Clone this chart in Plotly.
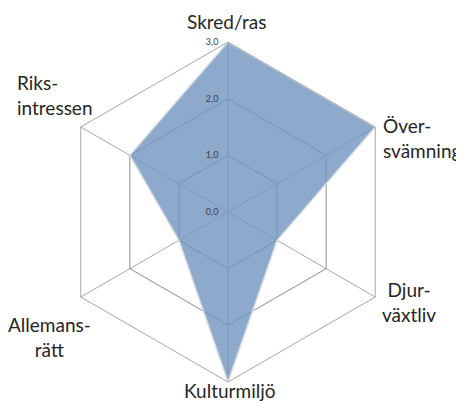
import plotly.graph_objects as go

# categories clockwise from the top
categories = ["Skred/ras", "Översvämning", "Djurväxtliv",
              "Kulturmiljö", "Allemansrätt", "Riksintressen"]
values = [3.0, 3.0, 1.0, 3.0, 1.0, 2.0]
tick_vals = [0, 1, 2, 3]

# wrapped label text as printed around the chart
label_text = ["Skred/ras", "Över-<br>svämning", "Djur-<br>växtliv",
              "Kulturmiljö", "Allemans-<br>rätt", "Riks-<br>intressen"]

fig = go.Figure()
fig.add_trace(go.Scatterpolar(
    r=values + values[:1],
    theta=categories + categories[:1],
    fill="toself",
    fillcolor="rgba(112,148,190,0.8)",
    line=dict(color="rgba(215,220,228,1)", width=1.5),
    mode="lines",
    hoverinfo="skip",
))

# label placement (paper coords), kept apart from the data
label_pos = [
    (0.497, 1.059, "center", "center"),
    (0.950, 0.718, "left", "left"),
    (1.032, 0.235, "center", "center"),
    (0.506, -0.026, "center", "center"),
    (-0.026, 0.132, "center", "center"),
    (-0.126, 0.844, "left", "left"),
]
for txt, (x, y, xa, al) in zip(label_text, label_pos):
    fig.add_annotation(
        x=x, y=y, xref="paper", yref="paper", text=txt,
        xanchor=xa, yanchor="middle", align=al, showarrow=False,
        font=dict(size=19, color="#262626"),
    )

fig.update_layout(
    width=464,
    height=403,
    margin=dict(l=50, r=74, t=34, b=29),
    paper_bgcolor="white",
    showlegend=False,
    separators=", ",
    font=dict(family="Lato, Open Sans, sans-serif", color="#262626"),
    polar=dict(
        bgcolor="white",
        gridshape="linear",
        domain=dict(x=[0, 1], y=[0, 1]),
        angularaxis=dict(
            direction="clockwise",
            rotation=90,
            linecolor="#a6a6a6",
            linewidth=1,
            gridcolor="#a6a6a6",
            gridwidth=1,
            ticks="",
            showticklabels=False,
        ),
        radialaxis=dict(
            range=[0, 3],
            tickvals=tick_vals,
            tickformat=".1f",
            angle=90,
            tickangle=90,
            side="counterclockwise",
            showline=False,
            ticks="outside",
            ticklen=6,
            tickcolor="rgba(0,0,0,0)",
            gridcolor="#8c8c8c",
            gridwidth=1,
            tickfont=dict(size=9, color="#404040"),
        ),
    ),
)

fig.write_html("out.html")
